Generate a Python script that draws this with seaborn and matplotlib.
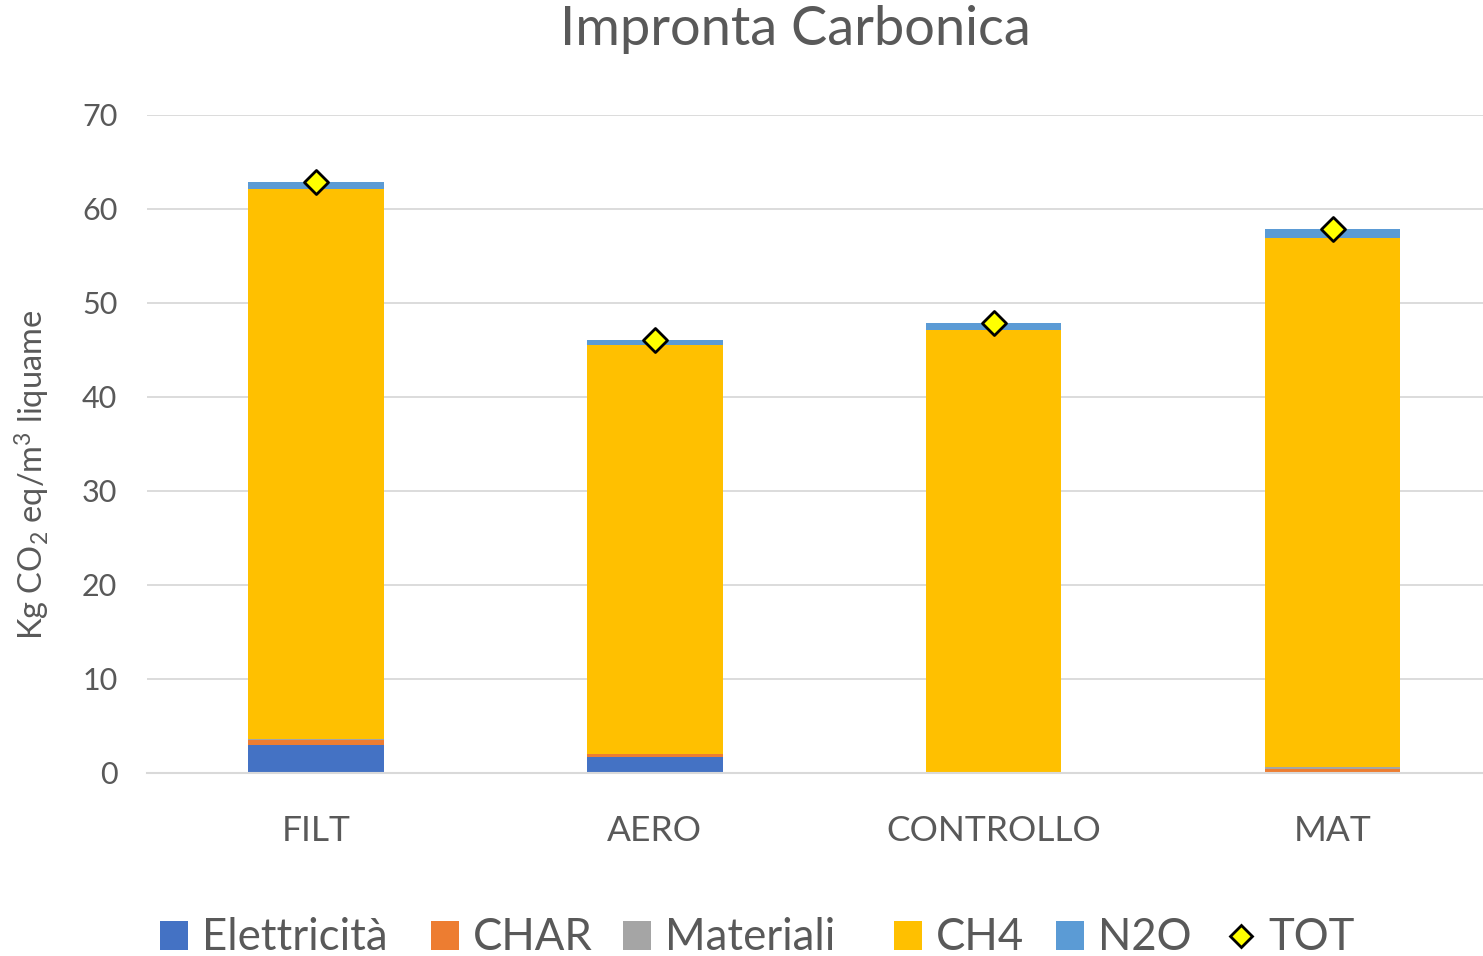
import numpy as np
import pandas as pd
import seaborn as sns
import matplotlib.pyplot as plt
from matplotlib.patches import Patch
from matplotlib.lines import Line2D

# values (kg CO2 eq / m3 liquame)
categories = ['FILT', 'AERO', 'CONTROLLO', 'MAT']
elettricita = [2.95, 1.65, 0.0, 0.0]
char = [0.55, 0.35, 0.0, 0.45]
materiali = [0.1, 0.05, 0.0, 0.2]
ch4 = [58.5, 43.5, 47.1, 56.25]
n2o = [0.8, 0.55, 0.8, 1.0]
tot = [62.9, 46.1, 47.9, 57.9]

series = ['Elettricità', 'CHAR', 'Materiali', 'CH4', 'N2O']
palette = {
    'Elettricità': '#4472c4',
    'CHAR': '#ed7d31',
    'Materiali': '#a5a5a5',
    'CH4': '#ffc000',
    'N2O': '#5b9bd5',
}
text_col = '#595959'

sns.set_style('white')
plt.rcParams['font.family'] = ['Lato', 'DejaVu Sans']
plt.rcParams['mathtext.fontset'] = 'custom'
plt.rcParams['mathtext.rm'] = 'Lato'
plt.rcParams['mathtext.it'] = 'Lato'

df = pd.DataFrame({'cat': categories, 'Elettricità': elettricita, 'CHAR': char,
                   'Materiali': materiali, 'CH4': ch4, 'N2O': n2o})
cum = df[series].cumsum(axis=1)
cum['cat'] = df['cat']

fig = plt.figure(figsize=(14.83, 9.56), dpi=100)
ax = fig.add_axes([146.5 / 1483, 183 / 956, 1 - 146.5 / 1483, 658 / 956])

# stacked bars: draw cumulative totals from the top layer down
for s in reversed(series):
    sns.barplot(data=cum, x='cat', y=s, order=categories, color=palette[s],
                width=0.4, saturation=1, ax=ax, edgecolor='none', linewidth=0)

ax.scatter(np.arange(len(categories)), tot, marker='D', s=150, color='#ffff00',
           edgecolor='black', linewidth=2, zorder=5)

ax.set_ylim(0, 70)
ax.set_xlim(-0.5, 3.5 - 19 / 339)
ax.set_yticks(range(0, 71, 10))
ax.yaxis.grid(True, color='#d9d9d9', linewidth=1.3)
ax.set_axisbelow(True)
for sp in ['top', 'right', 'left']:
    ax.spines[sp].set_visible(False)
ax.spines['bottom'].set_color('#d9d9d9')
ax.spines['bottom'].set_linewidth(1.5)
ax.tick_params(axis='y', length=0, labelsize=22, labelcolor=text_col, pad=21)
ax.tick_params(axis='x', length=0, labelsize=25.5, labelcolor=text_col, pad=30)
ax.set_xlabel('')
ax.set_ylabel(r'Kg CO$_2$ eq/m$^3$ liquame', fontsize=23.5, color=text_col)
ax.yaxis.set_label_coords(-0.0705, 0.453)

fig.text(795 / 1483, 1 - 30 / 956, 'Impronta Carbonica', ha='center', va='center',
         fontsize=39, color=text_col)

# legend entries placed one by one, like the Excel legend
legend_x = [160, 431, 623, 894, 1056, 1227]
handles = [Patch(facecolor=palette[s], edgecolor='none') for s in series]
handles.append(Line2D([], [], marker='D', linestyle='none', markersize=11,
                      markerfacecolor='#ffff00', markeredgecolor='black', markeredgewidth=2))
labels = series + ['TOT']
for h, lab, x in zip(handles, labels, legend_x):
    leg = fig.legend([h], [lab], loc='center left', bbox_to_anchor=(x / 1483, 1 - 938 / 956),
                     frameon=False, fontsize=31.5, handlelength=0.65, handleheight=0.65,
                     handletextpad=0.3, borderpad=0, borderaxespad=0)
    for t in leg.get_texts():
        t.set_color(text_col)

fig.savefig('out.png', dpi=100)
